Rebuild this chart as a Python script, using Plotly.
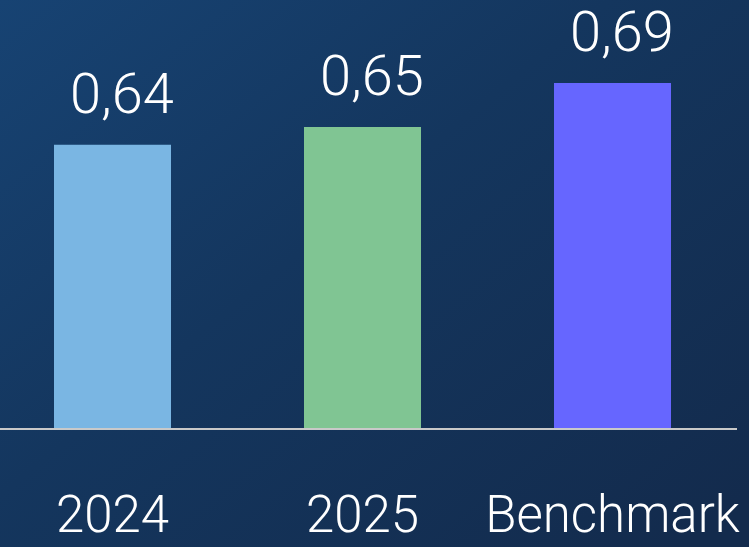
import base64
import plotly.graph_objects as go

categories = ["2024", "2025", "Benchmark"]
values = [0.638, 0.653, 0.690]
colors = ["#7AB6E3", "#80C593", "#6666FF"]

W, H = 749, 547
FONT = "Roboto, Liberation Sans, sans-serif"

svg = (
    "<svg xmlns='http://www.w3.org/2000/svg' width='749' height='547' preserveAspectRatio='none'>"
    "<defs><linearGradient id='g' x1='0' y1='0' x2='1' y2='0.9'>"
    "<stop offset='0' stop-color='#174373'/>"
    "<stop offset='0.45' stop-color='#14365e'/>"
    "<stop offset='1' stop-color='#132b4d'/>"
    "</linearGradient></defs>"
    "<rect width='749' height='547' fill='url(#g)'/></svg>"
)
bg_src = "data:image/svg+xml;base64," + base64.b64encode(svg.encode()).decode()

fig = go.Figure()
fig.add_trace(go.Bar(
    x=list(range(len(categories))), y=values,
    marker=dict(color=colors, line=dict(width=0)),
    width=0.468,
    hoverinfo="skip",
))

for i, v in enumerate(values):
    fig.add_annotation(
        x=i, y=v, xref="x", yref="y",
        text=f"{v:.2f}".replace(".", ","),
        showarrow=False, yanchor="bottom", xanchor="center",
        xshift=9, yshift=16,
        font=dict(family=FONT, size=56, color="white", weight=300),
    )

y0 = 0.4
fig.update_layout(
    width=W, height=H,
    margin=dict(l=0, r=0, t=0, b=0),
    paper_bgcolor="#143560",
    plot_bgcolor="rgba(0,0,0,0)",
    showlegend=False,
    images=[dict(source=bg_src, xref="paper", yref="paper", x=0, y=1,
                 sizex=1, sizey=1, xanchor="left", yanchor="top",
                 sizing="stretch", layer="below")],
    xaxis=dict(
        domain=[0, 737 / W],
        range=[-0.45, 2.498],
        tickmode="array",
        tickvals=list(range(len(categories))),
        ticktext=categories,
        showline=True, linecolor="#c9c9c9", linewidth=2,
        showgrid=False, zeroline=False, automargin=False,
        ticks="", ticklabelstandoff=41,
        tickfont=dict(family=FONT, size=51, color="white", weight=300),
    ),
    yaxis=dict(
        domain=[(H - 428) / H, 1],
        range=[y0, y0 + 428 / 1190],
        visible=False, automargin=False,
    ),
)

fig.write_html(
    "out.html",
    config={"displayModeBar": False},
    post_script="document.body.style.margin='0';document.body.style.overflow='hidden';",
)
